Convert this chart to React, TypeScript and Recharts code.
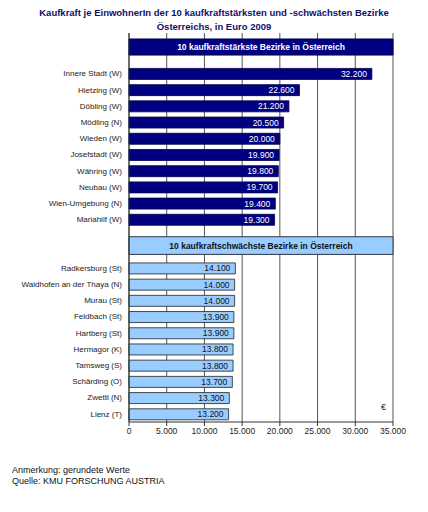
import React from 'react';
import { BarChart, Bar, XAxis, YAxis, CartesianGrid, ReferenceArea, LabelList } from 'recharts';

const title1 = 'Kaufkraft je EinwohnerIn der 10 kaufkraftstärksten und -schwächsten Bezirke';
const title2 = 'Österreichs, in Euro 2009';
const header1 = '10 kaufkraftstärkste Bezirke in Österreich';
const header2 = '10 kaufkraftschwächste Bezirke in Österreich';

const strongNames = ['Innere Stadt (W)', 'Hietzing (W)', 'Döbling (W)', 'Mödling (N)', 'Wieden (W)', 'Josefstadt (W)', 'Währing (W)', 'Neubau (W)', 'Wien-Umgebung (N)', 'Mariahilf (W)'];
const strongValues = [32200, 22600, 21200, 20500, 20000, 19900, 19800, 19700, 19400, 19300];
const weakNames = ['Radkersburg (St)', 'Waidhofen an der Thaya (N)', 'Murau (St)', 'Feldbach (St)', 'Hartberg (St)', 'Hermagor (K)', 'Tamsweg (S)', 'Schärding (O)', 'Zwettl (N)', 'Lienz  (T)'];
const weakValues = [14100, 14000, 14000, 13900, 13900, 13800, 13800, 13700, 13300, 13200];
const xTicks = [0, 5000, 10000, 15000, 20000, 25000, 30000, 35000];
const notes = ['Anmerkung: gerundete Werte', 'Quelle: KMU FORSCHUNG AUSTRIA'];

// header band positions on a row-index scale (0 = top of plot, 24 = bottom)
const header1Rows = [0.37, 1.36];
const header2Rows = [12.57, 13.66];

const rows = [
  { name: '_g1' },
  { name: '_g2' },
  ...strongNames.map((n, i) => ({ name: n, strong: strongValues[i] })),
  { name: '_g3' },
  { name: '_g4' },
  ...weakNames.map((n, i) => ({ name: n, weak: weakValues[i] })),
];
const data = rows.map((r, i) => ({ ...r, row: i + 0.5 }));
const rowBoundaries = rows.map((_, i) => i + 1).slice(0, rows.length - 1);

const fmt = (v: any) => (v === undefined || v === null || v === '' ? '' : Number(v).toLocaleString('de-DE'));
const FONT = '"Liberation Sans", Arial, sans-serif';

const CatTick = (props: any) => {
  const { x, y, payload } = props;
  const v: string = payload?.value ?? '';
  if (v.startsWith('_')) return null;
  return (
    <text x={x} y={y} dy="0.35em" textAnchor="end" fontSize={8} fill="#222" fontFamily={FONT}>
      {v}
    </text>
  );
};

export default function App() {
  return (
    <div style={{ position: 'absolute', left: 0, top: 0, width: 428, height: 512, background: '#fff', fontFamily: FONT }}>
      <div style={{ position: 'absolute', left: 0, top: 6, width: 428, textAlign: 'center', fontWeight: 'bold', fontSize: 9.5, lineHeight: '14px', color: '#10106a' }}>
        <div>{title1}</div>
        <div>{title2}</div>
      </div>
      <BarChart
        width={428}
        height={512}
        data={data}
        layout="vertical"
        margin={{ top: 33, right: 35, bottom: 60, left: 0 }}
        barCategoryGap={0}
        style={{ fontFamily: FONT }}
      >
        <CartesianGrid horizontal={false} vertical stroke="#555" strokeWidth={1} />
        <XAxis
          type="number"
          domain={[0, 35000]}
          ticks={xTicks}
          tickFormatter={fmt}
          tick={{ fontSize: 8.5, fill: '#222' }}
          axisLine={{ stroke: '#333' }}
          tickLine={{ stroke: '#333' }}
          tickSize={4}
          interval={0}
        />
        <YAxis
          yAxisId="pos"
          dataKey="row"
          type="number"
          domain={[0, 24]}
          allowDataOverflow
          ticks={rowBoundaries}
          interval={0}
          width={0}
          tick={false}
          tickSize={4}
          axisLine={false}
          tickLine={{ stroke: '#333' }}
        />
        <YAxis
          type="category"
          dataKey="name"
          width={129}
          interval={0}
          tick={<CatTick />}
          tickLine={false}
          tickSize={4}
          tickMargin={3}
          axisLine={{ stroke: '#333' }}
        />
        <Bar dataKey="strong" stackId="a" barSize={11} fill="#000080" stroke="#00004a" strokeWidth={0.8} isAnimationActive={false}>
          <LabelList dataKey="strong" position="insideRight" formatter={fmt} style={{ fill: '#fff', fontSize: 8.5 }} />
        </Bar>
        <Bar dataKey="weak" stackId="a" barSize={11} fill="#99CCFF" stroke="#222" strokeWidth={0.8} isAnimationActive={false}>
          <LabelList dataKey="weak" position="insideRight" formatter={fmt} style={{ fill: '#111', fontSize: 8.5 }} />
        </Bar>
        <ReferenceArea
          yAxisId="pos"
          x1={0}
          x2={35000}
          y1={header1Rows[0]}
          y2={header1Rows[1]}
          fill="#000080"
          fillOpacity={1}
          stroke="#00004a"
          label={{ value: header1, position: 'center', fill: '#fff', fontSize: 8.5, fontWeight: 'bold' }}
        />
        <ReferenceArea
          yAxisId="pos"
          x1={0}
          x2={35000}
          y1={header2Rows[0]}
          y2={header2Rows[1]}
          fill="#99CCFF"
          fillOpacity={1}
          stroke="#334"
          label={{ value: header2, position: 'center', fill: '#111', fontSize: 8.5, fontWeight: 'bold' }}
        />
      </BarChart>
      <div style={{ position: 'absolute', left: 381, top: 402, fontSize: 9, color: '#222' }}>€</div>
      <div style={{ position: 'absolute', left: 12, top: 465, fontSize: 9, lineHeight: '11px', color: '#111' }}>
        <div>{notes[0]}</div>
        <div>{notes[1]}</div>
      </div>
    </div>
  );
}
